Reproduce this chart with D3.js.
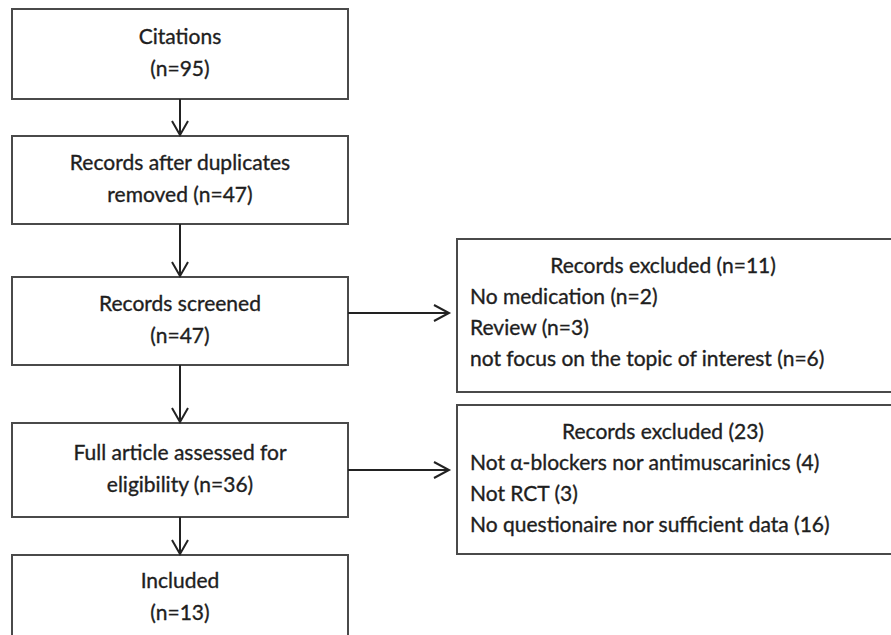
<!DOCTYPE html>
<html>
<head>
<meta charset="utf-8">
<script src="https://cdn.jsdelivr.net/npm/d3@7"></script>
<style>
  body { margin: 0; background: #fff; }
  text { font-family: Lato, "Open Sans", sans-serif; fill: #1e1e1e; stroke: #1e1e1e; stroke-width: 0.35px; }
</style>
</head>
<body>
<script>
// main flow boxes (left column)
const mainLabels = [
    ["Citations", "(n=95)"],
    ["Records after duplicates", "removed (n=47)"],
    ["Records screened", "(n=47)"],
    ["Full article assessed for", "eligibility (n=36)"],
    ["Included", "(n=13)"]
];

// exclusion boxes (right column), title + reasons
const excludedTitles = ["Records excluded (n=11)", "Records excluded (23)"];
const excludedReasons = [
    ["No medication (n=2)", "Review (n=3)", "not focus on the topic of interest (n=6)"],
    ["Not \u03b1-blockers nor antimuscarinics (4)", "Not RCT (3)", "No questionaire nor sufficient data (16)"]
];
// which main step each exclusion box comes off
const excludedFrom = [2, 3];

const width = 891;
const height = 635;

// layout of the boxes (top, bottom)
const mainTop = [9, 136, 277, 423, 555];
const mainBottom = [99, 224, 365, 517, 641];
const sideTop = [239, 405];
const sideBottom = [392, 554];
const arrowY = [313, 470];

const x = d3.scaleLinear().domain([0, 1]).range([12, 348]);   // left column
const xs = d3.scaleLinear().domain([0, 1]).range([457, 900]);  // right column

const svg = d3.select("body").append("svg")
    .attr("width", width)
    .attr("height", height);

const boxColor = "#4a4a4a";
const lineColor = "#222";
const lineH = 32;
const fontSize = 21;

// left boxes
const main = svg.append("g")
    .selectAll("g")
    .data(mainLabels)
    .enter().append("g");

main.append("rect")
    .attr("x", x(0))
    .attr("y", (d, i) => mainTop[i])
    .attr("width", x(1) - x(0))
    .attr("height", (d, i) => mainBottom[i] - mainTop[i])
    .attr("fill", "none")
    .attr("stroke", boxColor)
    .attr("stroke-width", 2);

main.each(function(d, i) {
    const cy = (mainTop[i] + mainBottom[i]) / 2;
    d3.select(this).selectAll("text")
        .data(d)
        .enter().append("text")
        .attr("x", x(0.5))
        .attr("y", (t, j) => cy + (j - (d.length - 1) / 2) * lineH + 6)
        .attr("text-anchor", "middle")
        .attr("font-size", fontSize)
        .text(t => t);
});

// vertical arrows between left boxes
const arrowsDown = svg.append("g")
    .selectAll("g")
    .data(d3.range(mainLabels.length - 1))
    .enter().append("g");

arrowsDown.append("line")
    .attr("x1", x(0.5)).attr("x2", x(0.5))
    .attr("y1", i => mainBottom[i])
    .attr("y2", i => mainTop[i + 1] - 1)
    .attr("stroke", lineColor)
    .attr("stroke-width", 2);

arrowsDown.append("path")
    .attr("d", i => {
        const tip = mainTop[i + 1] - 1;
        return `M${x(0.5) - 8},${tip - 14}L${x(0.5)},${tip}L${x(0.5) + 8},${tip - 14}`;
    })
    .attr("fill", "none")
    .attr("stroke", lineColor)
    .attr("stroke-width", 2);

// right boxes
const side = svg.append("g")
    .selectAll("g")
    .data(excludedTitles)
    .enter().append("g");

side.append("rect")
    .attr("x", xs(0))
    .attr("y", (d, i) => sideTop[i])
    .attr("width", xs(1) - xs(0))
    .attr("height", (d, i) => sideBottom[i] - sideTop[i])
    .attr("fill", "none")
    .attr("stroke", boxColor)
    .attr("stroke-width", 2);

side.append("text")
    .attr("x", 663)
    .attr("y", (d, i) => sideTop[i] + 34)
    .attr("text-anchor", "middle")
    .attr("font-size", fontSize)
    .text(d => d);

side.each(function(d, i) {
    d3.select(this).selectAll("text.reason")
        .data(excludedReasons[i])
        .enter().append("text")
        .attr("class", "reason")
        .attr("x", xs(0) + 13)
        .attr("y", (t, j) => sideTop[i] + 34 + (j + 1) * 31)
        .attr("font-size", fontSize)
        .text(t => t);
});

// horizontal arrows to the exclusion boxes
const arrowsSide = svg.append("g")
    .selectAll("g")
    .data(excludedFrom)
    .enter().append("g");

arrowsSide.append("line")
    .attr("x1", x(1))
    .attr("x2", xs(0) - 8)
    .attr("y1", (d, i) => arrowY[i])
    .attr("y2", (d, i) => arrowY[i])
    .attr("stroke", lineColor)
    .attr("stroke-width", 2);

arrowsSide.append("path")
    .attr("d", (d, i) => {
        const tip = xs(0) - 8, y = arrowY[i];
        return `M${tip - 15},${y - 8}L${tip},${y}L${tip - 15},${y + 8}`;
    })
    .attr("fill", "none")
    .attr("stroke", lineColor)
    .attr("stroke-width", 2);
</script>
</body>
</html>
